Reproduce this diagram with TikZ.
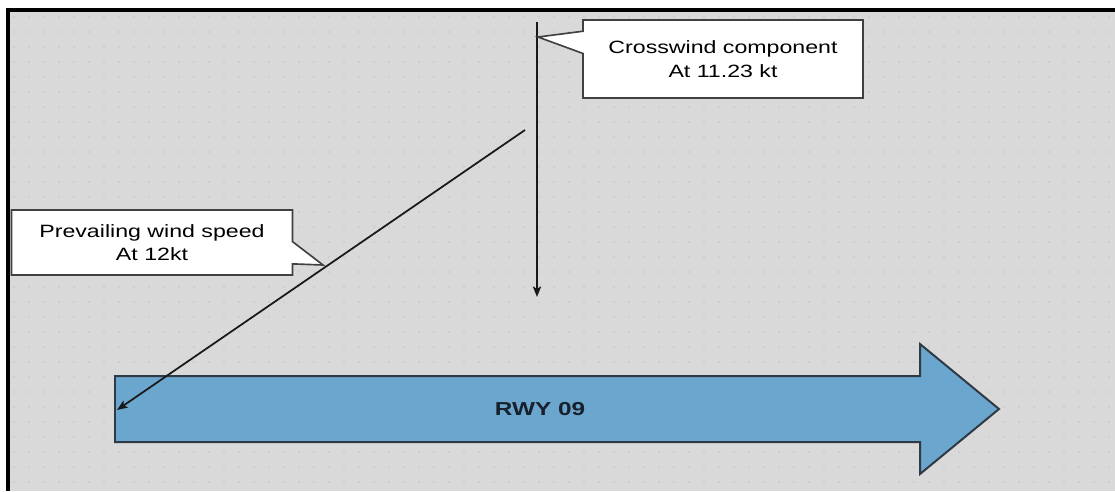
\documentclass[tikz,border=0pt]{standalone}
\usepackage{fontspec}
\setmainfont{Liberation Sans}[FakeStretch=1.3]
\usetikzlibrary{shapes.callouts,arrows.meta}
\definecolor{bggray}{HTML}{D9D9D9}
\definecolor{dotgray}{HTML}{C4C4C4}
\definecolor{rwyblue}{HTML}{6BA6CE}
\definecolor{rwyedge}{HTML}{2E3A44}
\definecolor{rwytext}{HTML}{17202B}

\begin{document}
\begin{tikzpicture}[x=0.03cm, y=-0.03cm,
    windnote/.style={rectangle callout, draw=black!75, line width=1.4pt, fill=white,
        align=center, inner sep=0pt, callout pointer width=19pt,
        font=\fontsize{15.2}{20}\selectfont},
    windarrow/.style={-{Stealth[length=9pt,width=7pt,inset=2pt]}, line width=1.5pt, black!90}]
    \useasboundingbox (0,0) rectangle (1115,491);

    % Sheet and dotted grid
    \fill[bggray] (8,10) rectangle (1115,491);
    \foreach \x in {14,29,...,1110}
        \foreach \y in {17,32,...,490}
            \fill[dotgray] (\x,\y) circle (0.7pt);
    \draw[line width=2.6pt] (8,491) -- (8,10) -- (1115,10);

    % Runway
    \draw[rwyedge, fill=rwyblue, line width=1.7pt, line join=miter]
        (115,376) -- (920,376) -- (920,344) -- (999,409) -- (920,474) -- (920,442) -- (115,442) -- cycle;
    \node[text=rwytext, font=\bfseries\fontsize{16}{16}\selectfont] (rwy) at (540,409) {RWY 09};

    % Wind vectors
    \coordinate (crosstop) at (537,22);
    \coordinate (crossend) at (537,297);
    \coordinate (windtail) at (525,130);
    \coordinate (windhead) at (117,410);
    \draw[windarrow] (crosstop) -- (crossend);
    \draw[windarrow] (windtail) -- (windhead);

    % Labels
    \coordinate (crosstip) at (538,37);
    \coordinate (windtip) at (323,265);
    \node[windnote, minimum width=8.4cm, minimum height=2.34cm,
          callout absolute pointer={(crosstip)}] (crossnote) at (723,59)
        {Crosswind component\\At 11.23 kt};
    \node[windnote, minimum width=8.43cm, minimum height=1.95cm,
          callout absolute pointer={(windtip)}] (windnote) at (152,242.5)
        {Prevailing wind speed\\At 12kt};
\end{tikzpicture}
\end{document}
